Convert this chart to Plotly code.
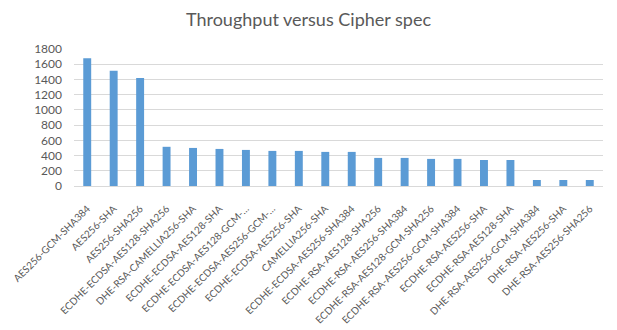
import plotly.graph_objects as go

ciphers = [
    "AES256-GCM-SHA384",
    "AES256-SHA",
    "AES256-SHA256",
    "ECDHE-ECDSA-AES128-SHA256",
    "DHE-RSA-CAMELLIA256-SHA",
    "ECDHE-ECDSA-AES128-SHA",
    "ECDHE-ECDSA-AES128-GCM-…",
    "ECDHE-ECDSA-AES256-GCM-…",
    "ECDHE-ECDSA-AES256-SHA",
    "CAMELLIA256-SHA",
    "ECDHE-ECDSA-AES256-SHA384",
    "ECDHE-RSA-AES128-SHA256",
    "ECDHE-RSA-AES256-SHA384",
    "ECDHE-RSA-AES128-GCM-SHA256",
    "ECDHE-RSA-AES256-GCM-SHA384",
    "ECDHE-RSA-AES256-SHA",
    "ECDHE-RSA-AES128-SHA",
    "DHE-RSA-AES256-GCM-SHA384",
    "DHE-RSA-AES256-SHA",
    "DHE-RSA-AES256-SHA256",
]
throughput = [1680, 1515, 1420, 515, 500, 487, 474, 461, 461, 448,
              448, 369, 369, 356, 356, 342, 342, 79, 79, 79]
y_ticks = [0, 200, 400, 600, 800, 1000, 1200, 1400, 1600, 1800]

text_color = "#595959"
font_family = "Lato, Liberation Sans, Arial, sans-serif"

fig = go.Figure(
    go.Bar(x=ciphers, y=throughput, marker=dict(color="#5b9bd5", line=dict(width=0)))
)
fig.update_layout(
    width=617,
    height=330,
    margin=dict(l=74, r=14, t=49, b=144),
    paper_bgcolor="white",
    plot_bgcolor="white",
    bargap=0.7,
    showlegend=False,
    title=dict(
        text="Throughput versus Cipher spec",
        x=0.5,
        xanchor="center",
        y=0.94,
        yanchor="middle",
        font=dict(family=font_family, size=18, color=text_color),
    ),
    font=dict(family=font_family, color=text_color),
)
fig.update_xaxes(
    automargin=False,
    tickangle=-45,
    tickfont=dict(size=10, color=text_color),
    ticklabelstandoff=12,
    showgrid=False,
    showline=True,
    linecolor="#d9d9d9",
    linewidth=1,
    ticks="",
)
fig.update_yaxes(
    automargin=False,
    range=[0, 1800],
    tickvals=y_ticks,
    tickfont=dict(size=12, color=text_color),
    ticklabelstandoff=11,
    showgrid=True,
    gridcolor="#d9d9d9",
    gridwidth=1,
    zeroline=False,
    showline=False,
    ticks="",
)
fig.write_html("out.html")
